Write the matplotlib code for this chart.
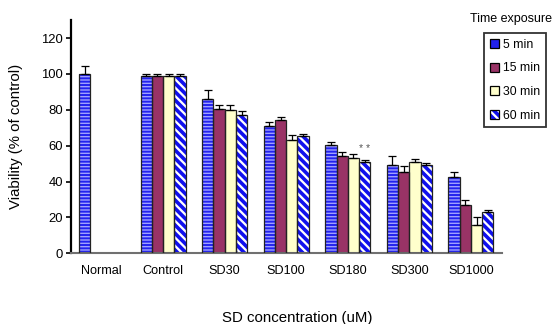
import numpy as np
import matplotlib
matplotlib.use("Agg")
import matplotlib.pyplot as plt
from matplotlib.patches import Patch
from matplotlib.legend_handler import HandlerTuple

plt.rcParams['font.family'] = ['Liberation Sans', 'DejaVu Sans']

categories = ["Normal", "Control", "SD30", "SD100", "SD180", "SD300", "SD1000"]
series = ["5 min", "15 min", "30 min", "60 min"]
v5 = [100, 98.7, 86.2, 71.2, 60.3, 49.3, 42.6]
v15 = [np.nan, 98.7, 80.7, 74.2, 54.3, 45.2, 26.9]
v30 = [np.nan, 98.7, 80.1, 62.9, 53.4, 50.8, 15.6]
v60 = [np.nan, 98.7, 77.3, 65.3, 50.8, 49.0, 23.0]
e5 = [4.6, 1.0, 5.0, 2.2, 2.0, 5.0, 2.8]
e15 = [0, 1.0, 2.2, 2.0, 2.0, 3.6, 2.9]
e30 = [0, 1.0, 2.8, 2.9, 1.7, 2.0, 4.6]
e60 = [0, 1.0, 2.3, 1.3, 1.3, 1.1, 1.3]
yticks = [0, 20, 40, 60, 80, 100, 120]

BS = chr(92)
values = [v5, v15, v30, v60]
errors = [e5, e15, e30, e60]
styles = [
    dict(facecolor='#A0A0FF', hatch_color='#2222EE', hatch='-----', hlw=1.4),
    dict(facecolor='#993366', hatch_color='#993366', hatch=None, hlw=1.0),
    dict(facecolor='#FFFFCC', hatch_color='#FFFFCC', hatch=None, hlw=1.0),
    dict(facecolor='#FFFFFF', hatch_color='#1010EE', hatch=BS * 4, hlw=2.6),
]

fig = plt.figure(figsize=(5.55, 3.24), dpi=100)
ax = fig.add_axes([0.1274, 0.218, 0.7766, 0.72])

x = np.arange(len(categories))
w = 0.183
handles = []
for i, (vals, errs, st) in enumerate(zip(values, errors, styles)):
    xs = x + (i - 1.5) * w
    plt.rcParams['hatch.linewidth'] = st['hlw']
    bars = ax.bar(xs, vals, width=w, color=st['facecolor'], edgecolor=st['hatch_color'],
                  linewidth=0, hatch=st['hatch'], zorder=2)
    for b in bars:
        if hasattr(b, 'set_hatch_linewidth'):
            b.set_hatch_linewidth(st['hlw'])
    ax.bar(xs, vals, width=w, fill=False, edgecolor='#222222', linewidth=0.9, zorder=3)
    vv = np.array(vals, dtype=float)
    ee = np.array(errs, dtype=float)
    mask = ~np.isnan(vv)
    ax.errorbar(xs[mask], vv[mask], yerr=[np.zeros(mask.sum()), ee[mask]], fmt='none',
                ecolor='black', elinewidth=0.9, capsize=3, capthick=0.9, zorder=4)
    hp = Patch(facecolor=st['facecolor'], edgecolor=st['hatch_color'], hatch=st['hatch'], linewidth=0)
    if hasattr(hp, 'set_hatch_linewidth'):
        hp.set_hatch_linewidth(st['hlw'])
    op = Patch(fill=False, edgecolor='black', linewidth=0.9)
    handles.append((hp, op))

ax.text(4 + 1.5 * w, 58, "* *", ha='center', va='center', fontsize=7.5, color='#555555')

ax.set_xlim(-0.5, 6.5)
ax.set_ylim(0, 130)
ax.set_yticks(yticks)
ax.set_xticks(x)
ax.set_xticklabels(categories, fontsize=9.1)
ax.tick_params(axis='x', length=0, pad=8.5)
ax.tick_params(axis='y', length=3.5, width=1.2, labelsize=9.4, pad=2)
for s in ['top', 'right']:
    ax.spines[s].set_visible(False)
ax.spines['left'].set_linewidth(1.6)
ax.spines['left'].set_color('black')
ax.spines['bottom'].set_linewidth(1.5)
ax.spines['bottom'].set_color('#707070')

ax.set_ylabel("Viability (% of control)", fontsize=10.8)
ax.yaxis.set_label_coords(-0.111, 0.5)
ax.set_xlabel("SD concentration (uM)", fontsize=10.8)
ax.xaxis.set_label_coords(0.525, -0.245)

leg = fig.legend(handles, series, handler_map={tuple: HandlerTuple(ndivide=1)},
                 loc='upper left', bbox_to_anchor=(484.3 / 555, 1 - 33.3 / 324),
                 fontsize=8.8, frameon=True, fancybox=False, handlelength=0.75, handleheight=0.75,
                 handletextpad=0.35, labelspacing=0.95, borderpad=0.45, borderaxespad=0)
leg.get_frame().set_edgecolor('black')
leg.get_frame().set_linewidth(1.3)
fig.text(510.5 / 555, 1 - 19.3 / 324, "Time exposure", ha='center', va='center', fontsize=9)

fig.savefig("out.png", dpi=100)
